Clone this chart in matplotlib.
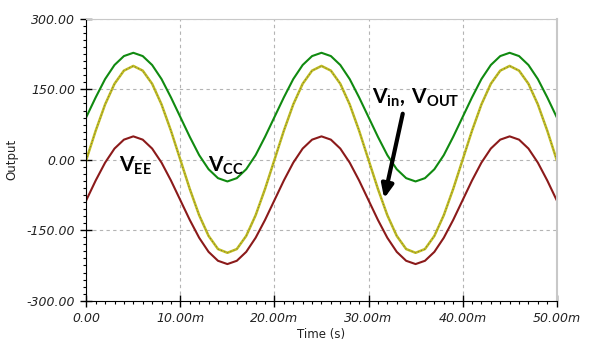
import numpy as np
import matplotlib
matplotlib.use('Agg')
import matplotlib.pyplot as plt
from matplotlib.ticker import MultipleLocator, FuncFormatter

plt.rcParams['mathtext.fontset'] = 'custom'
plt.rcParams['mathtext.bf'] = 'Lato:bold'
plt.rcParams['mathtext.rm'] = 'Lato'

# time in ms, samples every 1 ms
t = np.arange(0, 51)

v_in = [0, 62, 118, 162, 190, 200, 190, 162, 118, 62,
        0, -62, -118, -162, -190, -198, -190, -162, -118, -62,
        0, 62, 118, 162, 190, 200, 190, 162, 118, 62,
        0, -62, -118, -162, -190, -198, -190, -162, -118, -62,
        0, 62, 118, 162, 190, 200, 190, 162, 118, 62, 0]
v_out = v_in
v_cc = [91, 133, 172, 202, 221, 228, 221, 202, 172, 133,
        91, 49, 10, -20, -39, -46, -39, -20, 10, 49,
        91, 133, 172, 202, 221, 228, 221, 202, 172, 133,
        91, 49, 10, -20, -39, -46, -39, -20, 10, 49,
        91, 133, 172, 202, 221, 228, 221, 202, 172, 133, 91]
v_ee = [-86, -44, -6, 24, 43, 50, 43, 24, -6, -44,
        -86, -128, -166, -196, -215, -222, -215, -196, -166, -128,
        -86, -44, -6, 24, 43, 50, 43, 24, -6, -44,
        -86, -128, -166, -196, -215, -222, -215, -196, -166, -128,
        -86, -44, -6, 24, 43, 50, 43, 24, -6, -44, -86]

fig = plt.figure(figsize=(6, 3.49), dpi=100)
ax = fig.add_axes([0.1438, 0.1384, 0.7840, 0.8072])

ax.plot(t, v_cc, color='#108a10', lw=1.5)
ax.plot(t, v_ee, color='#8b1a1a', lw=1.5)
ax.plot(t, v_in, color='#c0bc20', lw=1.8)
ax.plot(t, v_out, color='#3a3a60', lw=0.6, ls=(0, (1, 3)), alpha=0.7)

ax.set_xlim(0, 50)
ax.set_ylim(-300, 300)
ax.xaxis.set_major_locator(MultipleLocator(10))
ax.xaxis.set_minor_locator(MultipleLocator(1))
ax.yaxis.set_major_locator(MultipleLocator(150))
ax.yaxis.set_minor_locator(MultipleLocator(15))
ax.xaxis.set_major_formatter(FuncFormatter(lambda v, p: '0.00' if v == 0 else '%.2fm' % v))
ax.yaxis.set_major_formatter(FuncFormatter(lambda v, p: '%.2f' % v))

ax.grid(True, which='major', color='#b4b4b4', ls=(0, (3, 3)), lw=0.8)
ax.tick_params(which='major', direction='inout', length=8, width=1, labelsize=9,
               labelcolor='#222222', pad=4)
ax.tick_params(which='minor', direction='out', length=2.5, width=0.8)
for lab in ax.get_xticklabels() + ax.get_yticklabels():
    lab.set_fontstyle('italic')
ax.spines['top'].set_color('#c8c8c8')
ax.spines['right'].set_color('#c8c8c8')
ax.spines['right'].set_linewidth(1.5)

ax.set_xlabel('Time (s)', fontsize=8.5, color='#222222', labelpad=2)
ax.set_ylabel('Output', fontsize=8.5, color='#222222', labelpad=6)

ax.text(3.45, -26, r'$\mathbf{V_{EE}}$', fontsize=15, color='black')
ax.text(12.9, -26, r'$\mathbf{V_{CC}}$', fontsize=15, color='black')
ax.text(30.4, 122, r'$\mathbf{V_{in},\,V_{OUT}}$', fontsize=15, color='black')
ax.annotate('', xy=(31.6, -88), xytext=(33.7, 104),
            arrowprops=dict(arrowstyle='-|>,head_length=0.8,head_width=0.35',
                            color='black', lw=3))

fig.savefig('out.png', dpi=100)
